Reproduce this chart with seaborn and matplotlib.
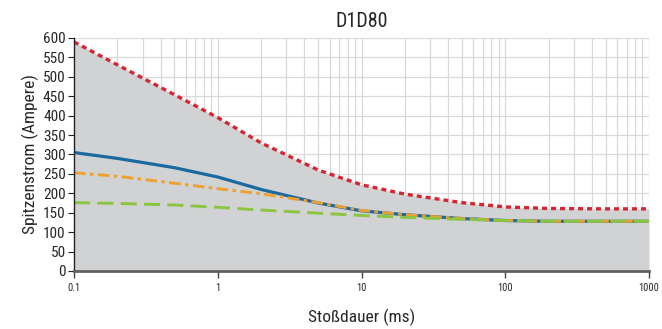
import matplotlib
matplotlib.use("Agg")
import matplotlib.pyplot as plt
import seaborn as sns
import numpy as np
import pandas as pd
from matplotlib.ticker import FixedLocator, FixedFormatter, LogLocator, NullFormatter

title = "D1D80"
xlabel = "Stoßdauer (ms)"
ylabel = "Spitzenstrom (Ampere)"

duration = [0.1, 0.2, 0.5, 1, 2, 5, 10, 20, 50, 100, 200, 500, 1000]
red_max = [590, 531, 454, 395, 330, 260, 222, 198, 176, 165, 161, 160, 160]
blue = [305, 290, 266, 242, 210, 175, 155, 145, 135, 130, 128, 128, 128]
orange = [253, 244, 226, 212, 199, 176, 156, 145, 135, 130, 128, 128, 128]
green = [176, 174, 170, 164, 157, 149, 143, 138, 133, 130, 128, 128, 128]

xticks = [0.1, 1, 10, 100, 1000]
xticklabels = ["0.1", "1", "10", "100", "1000"]
yticks = list(range(0, 601, 50))

sns.set_style("white")
plt.rcParams['font.family'] = ['Roboto Condensed', 'Archivo Narrow',
                               'Liberation Sans Narrow', 'DejaVu Sans']

df = pd.DataFrame({"x": duration, "red": red_max, "blue": blue,
                   "orange": orange, "green": green})

fig = plt.figure(figsize=(6.62, 3.29), dpi=100)
ax = fig.add_axes([0.1118, 0.1763, 0.8686, 0.7082])

ax.set_xscale("log")
ax.set_xlim(0.1, 1000)
ax.set_ylim(0, 600)

ax.xaxis.set_major_locator(FixedLocator(xticks))
ax.xaxis.set_major_formatter(FixedFormatter(xticklabels))
ax.xaxis.set_minor_locator(LogLocator(base=10, subs=np.arange(2, 10)))
ax.xaxis.set_minor_formatter(NullFormatter())
ax.set_yticks(yticks)
ax.grid(True, which="both", axis="x", color="#d9d9d9", lw=0.9, zorder=0)
ax.grid(True, which="major", axis="y", color="#d9d9d9", lw=0.9, zorder=0)
ax.set_axisbelow(True)

ax.fill_between(df["x"], df["red"], 0, color="#d1d2d4", lw=0, zorder=1)

sns.lineplot(data=df, x="x", y="red", ax=ax, color="#d7252f", lw=2.4,
             linestyle=(0, (1.5, 1.2)), zorder=3)
sns.lineplot(data=df, x="x", y="blue", ax=ax, color="#1b699f", lw=2.3, zorder=4)
sns.lineplot(data=df, x="x", y="orange", ax=ax, color="#eea12f", lw=2.1,
             linestyle=(0, (4.0, 1.5, 1.2, 1.5)), zorder=5)
sns.lineplot(data=df, x="x", y="green", ax=ax, color="#8cc641", lw=2.1,
             linestyle=(0, (5.5, 2.5)), zorder=6)

for s in ["top", "right"]:
    ax.spines[s].set_visible(False)
ax.spines["left"].set_color("#222222")
ax.spines["left"].set_linewidth(1.0)
ax.spines["bottom"].set_color("#606060")
ax.spines["bottom"].set_linewidth(2.0)
ax.spines["left"].set_zorder(7)
ax.spines["bottom"].set_zorder(7)

ax.tick_params(axis="y", which="major", direction="out", length=4, width=0.8,
               color="#222222", labelsize=11, pad=2, left=True)
ax.tick_params(axis="x", which="major", direction="out", length=5, width=1.0,
               color="#444444", labelsize=7.5, pad=4, bottom=True)
ax.tick_params(axis="x", which="minor", length=0)

ax.set_xlabel(xlabel, fontsize=12.5, labelpad=11)
ax.set_ylabel(ylabel, fontsize=12.5, labelpad=3)
ax.set_title(title, fontsize=14.5, pad=8)

fig.savefig("out.png", dpi=100)
